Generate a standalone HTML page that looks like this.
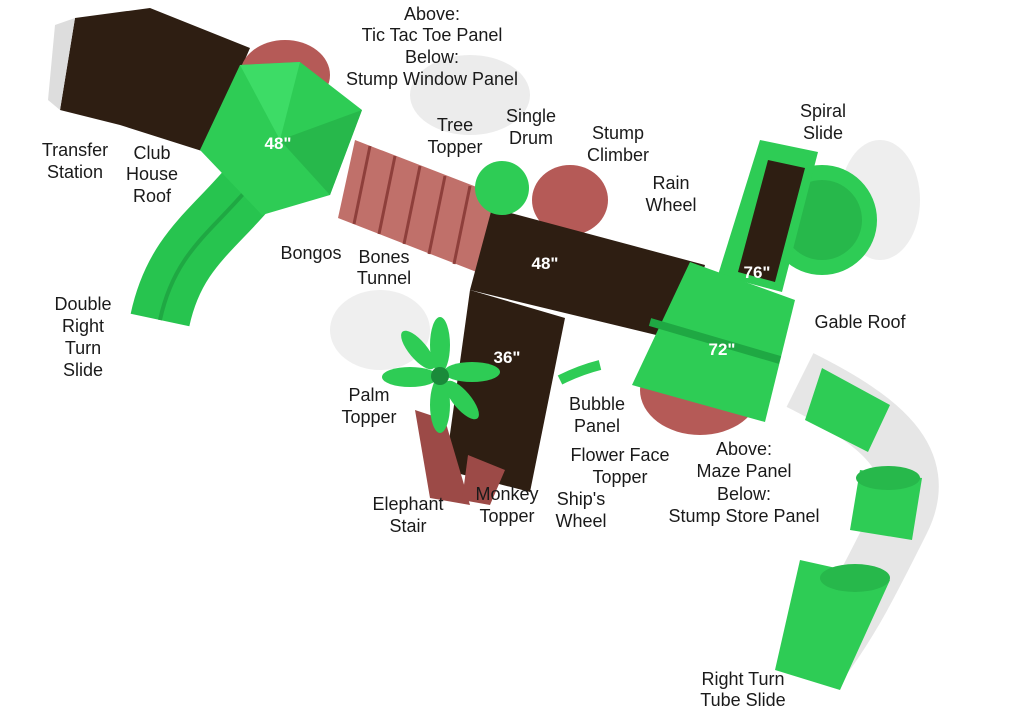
<!DOCTYPE html>
<html><head><meta charset="utf-8"><style>
html,body{margin:0;padding:0;background:#fff;}
svg{display:block;}
text{font-family:"Liberation Sans",sans-serif;font-size:18px;fill:#1a1a1a;text-anchor:middle;}
.d{fill:#fff;font-weight:bold;font-size:17px;}
</style></head><body>
<svg width="1024" height="723" viewBox="0 0 1024 723">
<!-- shadows -->
<ellipse cx="470" cy="95" rx="60" ry="40" fill="#ececec"/>
<ellipse cx="380" cy="330" rx="50" ry="40" fill="#efefef"/>
<ellipse cx="880" cy="200" rx="40" ry="60" fill="#eeeeee"/>
<!-- transfer station -->
<polygon points="75,18 150,8 250,48 205,152 120,125 60,110" fill="#2e1e12"/>
<polygon points="55,25 75,18 60,110 48,100" fill="#ddd"/>
<!-- double slide -->
<path d="M255,180 C215,230 175,250 160,320" stroke="#27c44f" stroke-width="60" fill="none"/>
<path d="M255,180 C215,230 175,250 160,320" stroke="#1fa843" stroke-width="4" fill="none"/>
<!-- club house back -->
<ellipse cx="285" cy="75" rx="45" ry="35" fill="#b55a57"/>
<!-- bones tunnel -->
<polygon points="355,140 505,198 492,278 338,218" fill="#c0706a"/>
<g stroke="#8e3f3b" stroke-width="3">
<line x1="370" y1="146" x2="354" y2="224"/><line x1="395" y1="156" x2="379" y2="234"/><line x1="420" y1="166" x2="404" y2="244"/><line x1="445" y1="176" x2="429" y2="254"/><line x1="470" y1="186" x2="454" y2="264"/>
</g>
<!-- roof -->
<polygon points="200,150 240,65 300,62 362,110 330,195 262,215" fill="#2ecc55"/>
<polygon points="240,65 300,62 280,140" fill="#3ddc66"/>
<polygon points="362,110 330,195 280,140" fill="#27b84b"/>
<text class="d" x="278" y="149">48"</text>
<!-- stump climber -->
<ellipse cx="570" cy="200" rx="38" ry="35" fill="#b55a57"/>
<!-- central deck -->
<polygon points="492,208 705,265 685,342 470,290" fill="#2e1e12"/>
<!-- lower deck -->
<polygon points="470,290 565,318 530,492 445,470" fill="#2e1e12"/>
<polygon points="415,410 445,420 470,505 430,498" fill="#9c4a47"/>
<polygon points="468,455 505,470 490,505 462,500" fill="#9c4a47"/>
<text class="d" x="545" y="269">48"</text>
<text class="d" x="507" y="363">36"</text>
<!-- ball -->
<circle cx="502" cy="188" r="27" fill="#2ecc55"/>
<!-- palm -->
<g fill="#2ecc55">
<ellipse cx="440" cy="345" rx="10" ry="28"/><ellipse cx="440" cy="405" rx="10" ry="28"/>
<ellipse cx="410" cy="377" rx="28" ry="10"/><ellipse cx="472" cy="372" rx="28" ry="10"/>
<ellipse cx="418" cy="350" rx="9" ry="24" transform="rotate(-40 418 350)"/><ellipse cx="462" cy="400" rx="9" ry="24" transform="rotate(-40 462 400)"/>
</g>
<circle cx="440" cy="376" r="9" fill="#1a8a3a"/>
<!-- bubble panel -->
<path d="M560,380 q20,-10 40,-15" stroke="#2ecc55" stroke-width="10" fill="none"/>
<!-- stump under gable -->
<ellipse cx="700" cy="390" rx="60" ry="45" fill="#b55a57"/>
<!-- spiral slide -->
<circle cx="822" cy="220" r="55" fill="#2ecc55"/>
<circle cx="822" cy="220" r="40" fill="#27b84b"/>
<polygon points="760,140 818,152 782,292 718,275" fill="#2ecc55"/>
<polygon points="768,160 805,168 775,282 738,272" fill="#2e1e12"/>
<text class="d" x="757" y="278">76"</text>
<!-- gable roof -->
<polygon points="690,262 795,300 765,422 632,385" fill="#2ecc55"/>
<line x1="650" y1="322" x2="780" y2="360" stroke="#1fa843" stroke-width="8"/>
<text class="d" x="722" y="355">72"</text>
<!-- tube slide -->
<path d="M800,380 C880,420 930,460 900,520 C870,580 850,620 820,660" stroke="#e6e6e6" stroke-width="60" fill="none"/>
<polygon points="822,368 890,405 868,452 805,420" fill="#2ecc55"/>
<polygon points="860,470 922,478 912,540 850,530" fill="#2ecc55"/>
<ellipse cx="888" cy="478" rx="32" ry="12" fill="#27b84b"/>
<polygon points="800,560 890,580 840,690 775,670" fill="#2ecc55"/>
<ellipse cx="855" cy="578" rx="35" ry="14" fill="#27b84b"/>
<!-- labels -->
<text x="432" y="20">Above:</text><text x="432" y="41">Tic Tac Toe Panel</text><text x="432" y="63">Below:</text><text x="432" y="85">Stump Window Panel</text>
<text x="75" y="156">Transfer</text><text x="75" y="178">Station</text>
<text x="152" y="159">Club</text><text x="152" y="180">House</text><text x="152" y="202">Roof</text>
<text x="455" y="131">Tree</text><text x="455" y="153">Topper</text>
<text x="531" y="122">Single</text><text x="531" y="144">Drum</text>
<text x="618" y="139">Stump</text><text x="618" y="161">Climber</text>
<text x="823" y="117">Spiral</text><text x="823" y="139">Slide</text>
<text x="671" y="189">Rain</text><text x="671" y="211">Wheel</text>
<text x="311" y="259">Bongos</text>
<text x="384" y="263">Bones</text><text x="384" y="284">Tunnel</text>
<text x="83" y="310">Double</text><text x="83" y="332">Right</text><text x="83" y="354">Turn</text><text x="83" y="376">Slide</text>
<text x="860" y="328">Gable Roof</text>
<text x="369" y="401">Palm</text><text x="369" y="423">Topper</text>
<text x="597" y="410">Bubble</text><text x="597" y="432">Panel</text>
<text x="620" y="461">Flower Face</text><text x="620" y="483">Topper</text>
<text x="744" y="455">Above:</text><text x="744" y="477">Maze Panel</text><text x="744" y="500">Below:</text><text x="744" y="522">Stump Store Panel</text>
<text x="408" y="510">Elephant</text><text x="408" y="532">Stair</text>
<text x="507" y="500">Monkey</text><text x="507" y="522">Topper</text>
<text x="581" y="505">Ship's</text><text x="581" y="527">Wheel</text>
<text x="743" y="685">Right Turn</text><text x="743" y="706">Tube Slide</text>
</svg>
</body></html>
